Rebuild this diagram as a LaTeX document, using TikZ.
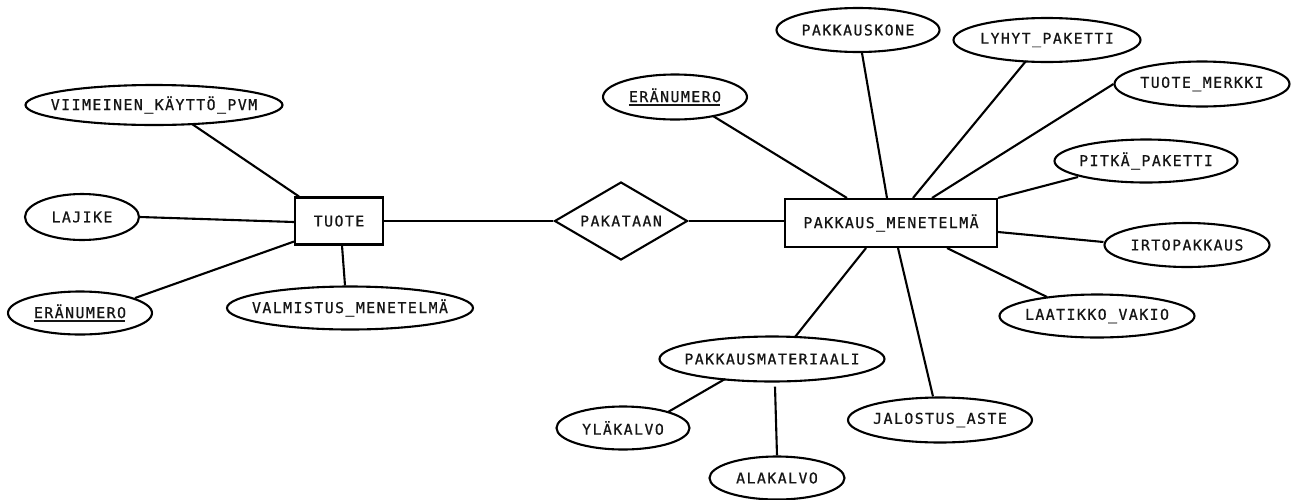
\documentclass[tikz,border=0pt]{standalone}
\usepackage{fontspec}
\usetikzlibrary{shapes.geometric,calc}
\newfontfamily\erfont{DejaVu Sans Mono}[LetterSpace=10,FakeBold=0.8]
\definecolor{ink}{HTML}{151515}
% labels are boxed at zero width so the shapes keep their given sizes
\newcommand\lbl[1]{\makebox[0pt]{#1}}
% key attributes: underlined a little below the baseline
\newcommand\keyattr[1]{\setbox0\hbox{#1}\rlap{\rule[-3.5pt]{\dimexpr\wd0-1.5pt\relax}{1.6pt}}\box0}
\tikzset{
  er/.style={draw=black, line width=2.1pt, fill=white, inner sep=0pt,
    font=\erfont\fontsize{14.8}{16}\selectfont, text=ink},
  attr/.style={er, ellipse, minimum height=44},
  entity/.style={er, rectangle, minimum height=47},
  rel/.style={er, diamond},
  link/.style={draw=black, line width=2.1pt}
}
\begin{document}
\begin{tikzpicture}[x=1pt, y=-1pt]
\useasboundingbox (0,0) rectangle (1291,499);

% entities and relationship
\node[entity, minimum width=88] (tuote) at (339,221) {\lbl{TUOTE}};
\node[rel, minimum width=133, minimum height=78] (pak) at (621,221) {\lbl{PAKATAAN}};
\node[entity, minimum width=212, minimum height=48] (pm) at (891,223) {\lbl{PAKKAUS\_MENETELMÄ}};

% attributes of TUOTE
\node[attr, minimum width=257, minimum height=40] (vkp) at (154,105) {\lbl{VIIMEINEN\_KÄYTTÖ\_PVM}};
\node[attr, minimum width=114, minimum height=46] (lajike) at (82,217) {\lbl{LAJIKE}};
\node[attr, minimum width=144, minimum height=43] (era1) at (80,313) {\lbl{\keyattr{ERÄNUMERO}}};
\node[attr, minimum width=246, minimum height=43] (valm) at (350,308) {\lbl{VALMISTUS\_MENETELMÄ}};

% attributes of PAKKAUS_MENETELMÄ
\node[attr, minimum width=144, minimum height=45] (era2) at (675,97) {\lbl{\keyattr{ERÄNUMERO}}};
\node[attr, minimum width=163] (kone) at (858,30) {\lbl{PAKKAUSKONE}};
\node[attr, minimum width=187] (lyhyt) at (1047,40) {\lbl{LYHYT\_PAKETTI}};
\node[attr, minimum width=175, minimum height=45] (merkki) at (1202,84) {\lbl{TUOTE\_MERKKI}};
\node[attr, minimum width=183, minimum height=43] (pitka) at (1146,161) {\lbl{PITKÄ\_PAKETTI}};
\node[attr, minimum width=165] (irto) at (1187,245) {\lbl{IRTOPAKKAUS}};
\node[attr, minimum width=195, minimum height=43] (laatikko) at (1097,316) {\lbl{LAATIKKO\_VAKIO}};
\node[attr, minimum width=184, minimum height=45] (jalostus) at (940,420) {\lbl{JALOSTUS\_ASTE}};
\node[attr, minimum width=225, minimum height=45] (mat) at (772,359) {\lbl{PAKKAUSMATERIAALI}};

% sub-attributes of PAKKAUSMATERIAALI
\node[attr, minimum width=133, minimum height=43] (yla) at (623,428) {\lbl{YLÄKALVO}};
\node[attr, minimum width=135, minimum height=43] (ala) at (777,478) {\lbl{ALAKALVO}};

% connectors
\draw[link] ($(vkp)+(38,19)$) -- ($(tuote.north west)+(5,0)$);
\draw[link] (lajike.east) -- ($(tuote.west)+(0,1)$);
\draw[link] ($(era1)+(55,-15)$) -- ($(tuote.south west)+(0,-4)$);
\draw[link] ($(valm.north)+(-5,0)$) -- ($(tuote.south)+(3,0)$);
\draw[link] (tuote.east) -- (pak.west);
\draw[link] (pak.east) -- ($(pm.west)+(0,-2)$);

\draw[link] ($(era2)+(38,19)$) -- ($(pm.north west)+(63,0)$);
\draw[link] ($(kone.south)+(4,0)$) -- ($(pm.north)+(-4,0)$);
\draw[link] ($(lyhyt)+(-21,21)$) -- ($(pm.north)+(22,0)$);
\draw[link] (merkki.west) -- ($(pm.north)+(41,0)$);
\draw[link] ($(pitka)+(-68,16)$) -- (pm.north east);
\draw[link] ($(irto.west)+(0,-3)$) -- ($(pm.east)+(0,9)$);
\draw[link] ($(laatikko)+(-50,-19)$) -- ($(pm.south)+(56,0)$);
\draw[link] ($(jalostus.north)+(-7,0)$) -- ($(pm.south)+(7,0)$);
\draw[link] ($(mat)+(23,-22)$) -- ($(pm.south)+(-25,0)$);

\draw[link] ($(yla)+(45,-16)$) -- ($(mat)+(-47,20)$);
\draw[link] (ala.north) -- ($(mat.south)+(3,4)$);
\end{tikzpicture}
\end{document}
